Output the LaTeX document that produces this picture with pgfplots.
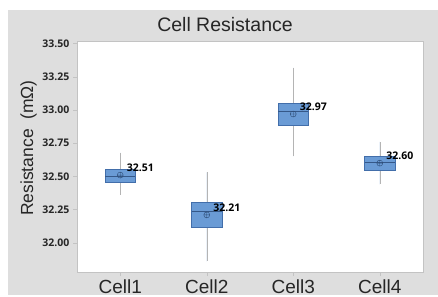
\documentclass[border=0pt]{standalone}
\usepackage{pgfplots}
\pgfplotsset{compat=1.18}
\usepgfplotslibrary{statistics}
\usepackage{fontspec}
\setmainfont{Liberation Sans}
\newfontfamily\tickfont{Open Sans}
\definecolor{bg}{HTML}{DEDEDE}
\definecolor{boxfill}{RGB}{106,155,213}
\definecolor{boxdraw}{RGB}{66,110,170}
\definecolor{whisk}{RGB}{180,180,180}
\definecolor{frame}{RGB}{195,195,195}
\pgfplotstableread{
x y label
1 32.51 32.51
2 32.21 32.21
3 32.97 32.97
4 32.60 32.60
}\means
\begin{document}
\begin{tikzpicture}
\fill[white] (-77pt,-23pt) rectangle (361pt,272pt);
\fill[bg] (-69pt,-23pt) rectangle (361pt,262pt);
\begin{axis}[
  at={(0pt,0pt)}, anchor=south west, scale only axis,
  width=346pt, height=231pt,
  xmin=0.5, xmax=4.5, ymin=31.78, ymax=33.52,
  axis background/.style={fill=white},
  axis line style={draw=frame},
  xtick={1,2,3,4}, xticklabels={Cell1,Cell2,Cell3,Cell4},
  ytick={32,32.25,32.5,32.75,33,33.25,33.5},
  /pgf/number format/fixed, /pgf/number format/fixed zerofill,
  /pgf/number format/precision=2, /pgf/number format/assume math mode=true,
  y tick label style={font=\tickfont\bfseries\fontsize{10.5}{12}\selectfont, text=black!85},
  x tick label style={font=\fontsize{19}{22}\selectfont, text=black!85},
  tick align=outside, tick pos=left,
  major tick length=4pt, tick style={draw=frame, thin},
  boxplot/draw direction=y,
  boxplot/every box/.style={draw=boxdraw, fill=boxfill},
  boxplot/every whisker/.style={draw=whisk, thin},
  boxplot/every median/.style={draw=boxdraw!80!black, thin},
]
\addplot[draw=boxdraw, fill=boxfill, boxplot prepared={median=32.50, upper quartile=32.553, lower quartile=32.455, upper whisker=32.68, lower whisker=32.36, draw position=1, box extend=0.35, whisker extend=0}] coordinates {};
\addplot[draw=boxdraw, fill=boxfill, boxplot prepared={median=32.235, upper quartile=32.305, lower quartile=32.12, upper whisker=32.53, lower whisker=31.86, draw position=2, box extend=0.35, whisker extend=0}] coordinates {};
\addplot[draw=boxdraw, fill=boxfill, boxplot prepared={median=32.99, upper quartile=33.053, lower quartile=32.886, upper whisker=33.32, lower whisker=32.65, draw position=3, box extend=0.35, whisker extend=0}] coordinates {};
\addplot[draw=boxdraw, fill=boxfill, boxplot prepared={median=32.61, upper quartile=32.65, lower quartile=32.545, upper whisker=32.76, lower whisker=32.44, draw position=4, box extend=0.35, whisker extend=0}] coordinates {};
\addplot[only marks, mark=oplus, mark size=3pt, mark options={draw=boxdraw!70!black, fill=boxfill, thin},
  nodes near coords, point meta=explicit symbolic,
  nodes near coords style={anchor=base west, inner sep=0pt, xshift=6.5pt, yshift=3.5pt,
    font=\tickfont\bfseries\fontsize{10.5}{12}\selectfont, text=black}]
  table[x=x, y=y, meta=label] {\means};
\end{axis}
\node[anchor=base, font=\fontsize{19.5}{22}\selectfont, text=black!85] at (148pt,240pt) {Cell Resistance};
\node[rotate=90, font=\fontsize{17.5}{20}\selectfont, text=black!85] at (-48.5pt,124pt) {Resistance\ \ (mΩ)};
\end{tikzpicture}
\end{document}
